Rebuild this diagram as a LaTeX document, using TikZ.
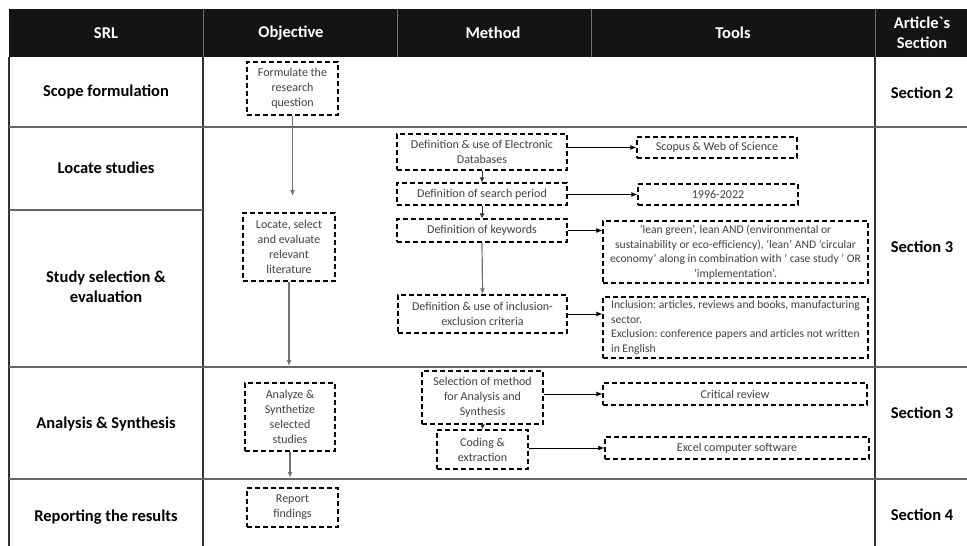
\documentclass[tikz,border=0pt]{standalone}
\usepackage{fontspec}
\setmainfont{Carlito}
\usetikzlibrary{arrows.meta}
\frenchspacing
\begin{document}
\begin{tikzpicture}[x=1pt,y=-1pt,
  dbox/.style={draw=black, line width=1.3pt, dash pattern=on 5pt off 3pt,
    inner sep=1pt, align=center, text=black!75,
    font=\fontsize{12}{15}\selectfont},
  lab/.style={font=\bfseries\fontsize{16.5}{20}\selectfont, align=center, text=black},
  hdr/.style={font=\bfseries\fontsize{16.5}{20}\selectfont, align=center, text=white},
  hline/.style={draw=black!60, line width=1.8pt},
  vline/.style={draw=black!80, line width=1.1pt},
  harrow/.style={draw=black, line width=0.8pt, -{Latex[length=6pt,width=5pt]}},
  varrow/.style={draw=black!55, line width=1.2pt, -{Latex[length=6pt,width=5pt]}},
  sarrow/.style={draw=black!80, line width=0.8pt, -{Latex[length=5pt,width=5pt]}}]
\useasboundingbox (0,0) rectangle (967,546);
% header
\fill[black!92] (9,9) rectangle (967,57);
\foreach \x in {203,397,591,875} \draw[black!55, line width=0.6pt] (\x,9) -- (\x,57);
\node[hdr] (h1) at (106,33) {SRL};
\node[hdr] (h2) at (291,33) {Objective};
\node[hdr] (h3) at (493,33) {Method};
\node[hdr] (h4) at (733,33) {Tools};
\node[hdr] (h5) at (922,33) {Article\textasciigrave s\\Section};
% grid
\foreach \x in {9,203,875} \draw[vline] (\x,57) -- (\x,546);
\draw[hline] (9,127) -- (967,127);
\draw[hline] (9,210) -- (203,210);
\draw[hline] (9,367) -- (967,367);
\draw[hline] (9,479) -- (967,479);
% row labels
\node[lab] (r1) at (106,92) {Scope formulation};
\node[lab] (r2) at (106,168) {Locate studies};
\node[lab] (r3) at (106,287) {Study selection \&\\evaluation};
\node[lab] (r4) at (106,424) {Analysis \& Synthesis};
\node[lab] (r5) at (106,517) {Reporting the results};
\node[lab] (s1) at (922,93) {Section 2};
\node[lab] (s2) at (922,247) {Section 3};
\node[lab] (s3) at (922,413) {Section 3};
\node[lab] (s4) at (922,515) {Section 4};
% objective boxes
\node[dbox, minimum width=91pt, minimum height=53pt] (form) at (292.5,88.5) {Formulate the\\research\\question};
\node[dbox, minimum width=92pt, minimum height=68pt] (loc) at (289,247) {Locate, select\\and evaluate\\relevant\\literature};
\node[dbox, minimum width=90pt, minimum height=68pt] (ana) at (290,417) {Analyze \&\\Synthetize\\selected\\studies};
\node[dbox, minimum width=91pt, minimum height=39pt] (rep) at (292.5,507.5) {Report\\findings};
% method boxes
\node[dbox, minimum width=170pt, minimum height=36pt] (db) at (482,152) {Definition \& use of Electronic\\Databases};
\node[dbox, minimum width=170pt, minimum height=22pt] (per) at (482,194) {Definition of search period};
\node[dbox, minimum width=170pt, minimum height=23pt] (kwd) at (482,230.5) {Definition of keywords};
\node[dbox, minimum width=169pt, minimum height=38pt] (inc) at (482.5,314) {Definition \& use of inclusion-\\exclusion criteria};
\node[dbox, minimum width=121pt, minimum height=53pt] (sel) at (482.5,397.5) {Selection of method\\for Analysis and\\Synthesis};
\node[dbox, minimum width=91pt, minimum height=39pt] (cod) at (482.5,449.5) {Coding \&\\extraction};
% tools boxes
\node[dbox, minimum width=160pt, minimum height=21pt] (sco) at (717,147.5) {Scopus \& Web of Science};
\node[dbox, minimum width=160pt, minimum height=21pt] (yrs) at (718,194.5) {1996-2022};
\node[dbox, minimum width=265pt, minimum height=62pt, font=\fontsize{11.6}{14.6}\selectfont] (kwt) at (735.5,252) {‘lean green’, lean AND (environmental or\\sustainability or eco-efficiency), ‘lean’ AND ‘circular\\economy’ along in combination with ’ case study ’ OR\\‘implementation’.};
\node[dbox, minimum width=265pt, minimum height=61pt, align=left, font=\fontsize{11.6}{14.6}\selectfont] (inct) at (735.5,327.5) {Inclusion: articles, reviews and books, manufacturing\\sector.\\Exclusion: conference papers and articles not written\\in English};
\node[dbox, minimum width=264pt, minimum height=22pt] (crit) at (735,394) {Critical review};
\node[dbox, minimum width=264pt, minimum height=22pt] (exc) at (737,448) {Excel computer software};
% objective arrows
\coordinate (e1) at (292.5,196);
\coordinate (e2) at (289,366);
\coordinate (e3) at (290,478);
\draw[varrow] (form.south) -- (e1);
\draw[varrow] (loc.south) -- (e2);
\draw[varrow] (ana.south) -- (e3);
% method vertical arrows
\draw[sarrow] (db.south) -- (per.north);
\draw[sarrow] (per.south) -- (kwd.north);
\draw[varrow] (kwd.south) -- (inc.north);
\draw[sarrow] (sel.south) -- (cod.north);
% horizontal arrows
\draw[harrow] (db.east |- sco.west) -- (sco.west);
\draw[harrow] (per.east |- yrs.west) -- (yrs.west);
\draw[harrow] (kwd.east) -- (kwd.east -| kwt.west);
\draw[harrow] (inc.east) -- (inc.east -| inct.west);
\draw[harrow] (sel.east |- crit.west) -- (crit.west);
\draw[harrow] (cod.east |- exc.west) -- (exc.west);
\end{tikzpicture}
\end{document}
